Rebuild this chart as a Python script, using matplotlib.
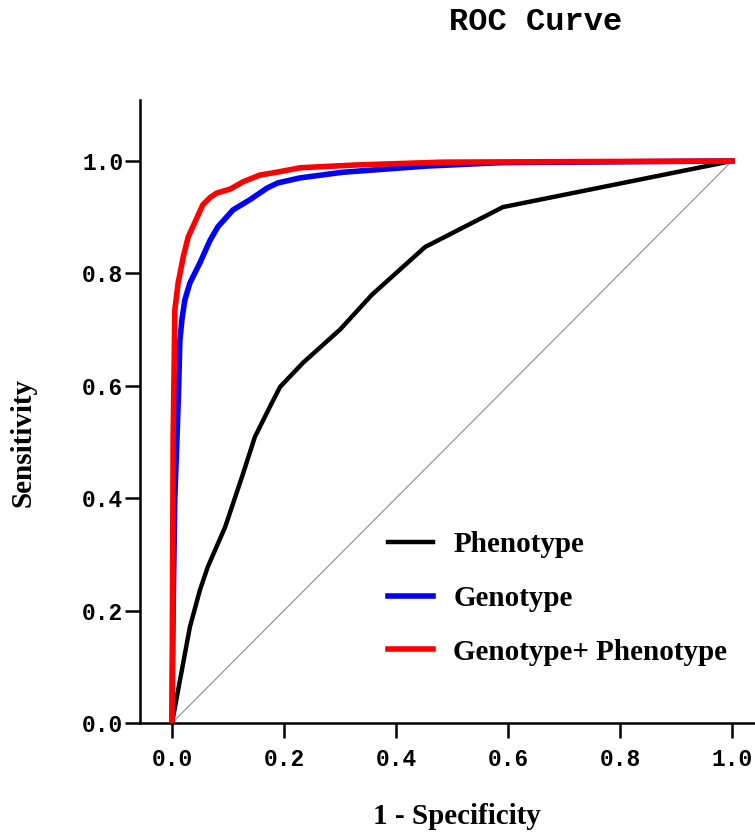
import matplotlib
matplotlib.use("Agg")
import matplotlib.pyplot as plt

# ROC points (1 - specificity, sensitivity)
pheno_fpr = [0.0, 0.032, 0.05, 0.064, 0.095, 0.125, 0.148, 0.166, 0.178, 0.193,
             0.234, 0.30, 0.357, 0.452, 0.591, 1.0]
pheno_tpr = [0.0, 0.171, 0.237, 0.278, 0.349, 0.438, 0.509, 0.545, 0.569, 0.598,
             0.641, 0.70, 0.762, 0.847, 0.918, 1.0]

geno_fpr = [0.0, 0.002, 0.005, 0.009, 0.012, 0.014, 0.018, 0.023, 0.032, 0.05,
            0.068, 0.082, 0.109, 0.139, 0.17, 0.189, 0.229, 0.305, 0.455, 0.586, 1.0]
geno_tpr = [0.0, 0.2, 0.4, 0.51, 0.6, 0.68, 0.72, 0.753, 0.783, 0.819,
            0.859, 0.883, 0.913, 0.931, 0.952, 0.961, 0.97, 0.98, 0.991, 0.997, 1.0]

combo_fpr = [0.0, 0.001, 0.002, 0.004, 0.005, 0.011, 0.02, 0.029, 0.045, 0.055,
             0.068, 0.08, 0.104, 0.127, 0.157, 0.187, 0.229, 0.33, 0.484, 1.0]
combo_tpr = [0.0, 0.25, 0.509, 0.65, 0.735, 0.783, 0.829, 0.865, 0.9, 0.922,
             0.935, 0.943, 0.950, 0.963, 0.975, 0.98, 0.988, 0.993, 0.998, 1.0]

labels = ["Phenotype", "Genotype", "Genotype+ Phenotype"]
ticks = [0.0, 0.2, 0.4, 0.6, 0.8, 1.0]

W, H = 755, 833
fig = plt.figure(figsize=(W / 100, H / 100), dpi=100)
ax = fig.add_axes([140 / W, (H - 723) / H, (W - 140) / W, (723 - 100) / H])

# chance line
ax.plot([0, 1], [0, 1], color="#8c8c8c", lw=0.8, zorder=1)

ax.plot(pheno_fpr, pheno_tpr, color="black", lw=3.2, label=labels[0],
        solid_joinstyle="round", zorder=2)
ax.plot(geno_fpr, geno_tpr, color="#0000ff", lw=4.0, label=labels[1],
        solid_joinstyle="round", zorder=3)
ax.plot(combo_fpr, combo_tpr, color="#ff0000", lw=4.0, label=labels[2],
        solid_joinstyle="round", zorder=4)

ax.set_xlim(-32 / 560, (W - 172) / 560)
ax.set_ylim(0, 623 / 562)

for side in ["top", "right"]:
    ax.spines[side].set_visible(False)
for side in ["left", "bottom"]:
    ax.spines[side].set_linewidth(1.8)

ax.set_xticks(ticks)
ax.set_yticks(ticks)
ax.set_xticklabels([f"{t:.1f}" for t in ticks])
ax.set_yticklabels([f"{t:.1f}" for t in ticks])
ax.tick_params(axis="both", direction="out", length=11, width=1.8)
ax.tick_params(axis="x", pad=7)
ax.tick_params(axis="y", pad=1)
for lab in ax.get_xticklabels() + ax.get_yticklabels():
    lab.set_fontfamily("Liberation Mono")
    lab.set_fontweight("bold")
    lab.set_fontsize(16.5)

serif = {"family": "Liberation Serif", "weight": "bold", "size": 21}
fig.text(457 / W, 1 - 817 / H, "1 - Specificity", ha="center", va="center", **serif)
fig.text(23 / W, 1 - 443 / H, "Sensitivity", ha="center", va="center",
         rotation=90, **serif)
fig.text(536 / W, 1 - 22 / H, "ROC Curve", ha="center", va="center",
         family="Liberation Mono", weight="bold", size=23)

leg = ax.legend(loc="upper left", bbox_to_anchor=(388 / W, 1 - 531 / H),
                bbox_transform=fig.transFigure, frameon=False, borderpad=0,
                borderaxespad=0, handlelength=1.55, handletextpad=0.69,
                labelspacing=0.92, prop=serif)

fig.savefig("out.png", dpi=100)
